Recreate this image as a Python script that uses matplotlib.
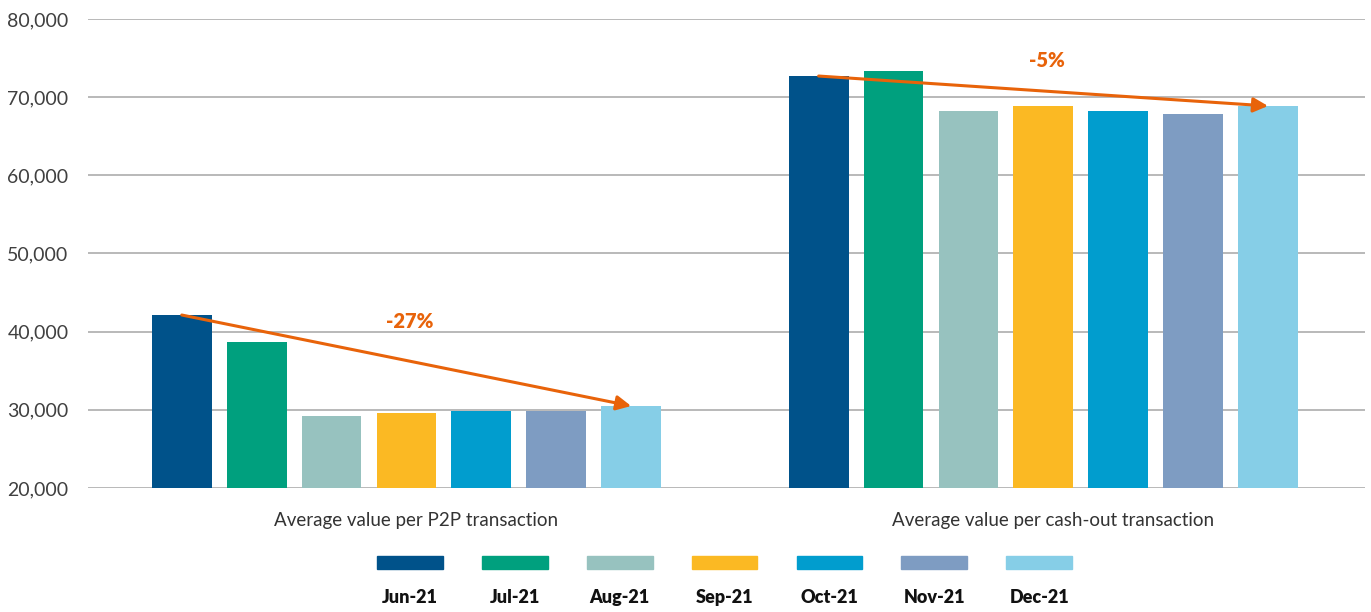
import numpy as np
import matplotlib
matplotlib.use('Agg')
import matplotlib.pyplot as plt
from matplotlib.patches import Rectangle

# data
groups = ['Average value per P2P transaction', 'Average value per cash-out transaction']
months = ['Jun-21', 'Jul-21', 'Aug-21', 'Sep-21', 'Oct-21', 'Nov-21', 'Dec-21']
p2p = [42130, 38680, 29200, 29590, 29850, 29850, 30490]
cashout = [72700, 73350, 68230, 68870, 68230, 67840, 68870]
change_labels = ['-27%', '-5%']
label_y = [41250, 74750]

colors = ['#00528A', '#00A07E', '#97C2BF', '#FBB923', '#019DCE', '#7E9CC2', '#86CEE7']
orange = '#E8630A'

plt.rcParams['font.family'] = ['Lato', 'DejaVu Sans']

fig = plt.figure(figsize=(13.71, 6.12), dpi=100)
ax = fig.add_axes([0.0642, 0.2026, 0.9314, 0.7664])

values = np.array([p2p, cashout])  # shape (group, month)
x = np.arange(len(groups))
step = 0.1176
width = 0.094
offsets = (np.arange(len(months)) - 3) * step

for i, m in enumerate(months):
    ax.bar(x + offsets[i], values[:, i], width=width, bottom=0,
           color=colors[i], zorder=3)

# trend arrows from first to last month
for g in range(len(groups)):
    ax.annotate('', xy=(x[g] + offsets[-1], values[g, -1]),
                xytext=(x[g] + offsets[0], values[g, 0]),
                arrowprops=dict(arrowstyle='-|>', color=orange, lw=2.2,
                                mutation_scale=22, shrinkA=0, shrinkB=0),
                zorder=5)
    ax.text(x[g] + 0.005, label_y[g], change_labels[g], color=orange, fontsize=14.5,
            fontweight='heavy', ha='center', va='center', zorder=6)

ax.set_ylim(20000, 80000)
ax.set_xlim(-0.5, 1.505)
ax.set_yticks(np.arange(20000, 80001, 10000))
ax.yaxis.set_major_formatter(matplotlib.ticker.FuncFormatter(lambda v, p: f'{v:,.0f}'))
ax.set_xticks(x + 0.015)
ax.set_xticklabels(groups)
ax.tick_params(axis='y', length=0, pad=14, labelsize=14, labelcolor='#404040')
ax.tick_params(axis='x', length=0, pad=17, labelsize=13.5, labelcolor='#333333')
ax.grid(axis='y', color='#b3b3b3', lw=1.3, zorder=0)
for s in ax.spines.values():
    s.set_visible(False)

# legend: colour swatch above each month label
for i, m in enumerate(months):
    cx = 0.299 + i * 0.0765
    fig.add_artist(Rectangle((cx - 0.024, 0.071), 0.048, 0.021,
                             transform=fig.transFigure, color=colors[i]))
    fig.text(cx, 0.024, m, ha='center', va='center', fontsize=13,
             fontweight='heavy', color='#111111')

fig.savefig('out.png', dpi=100)
